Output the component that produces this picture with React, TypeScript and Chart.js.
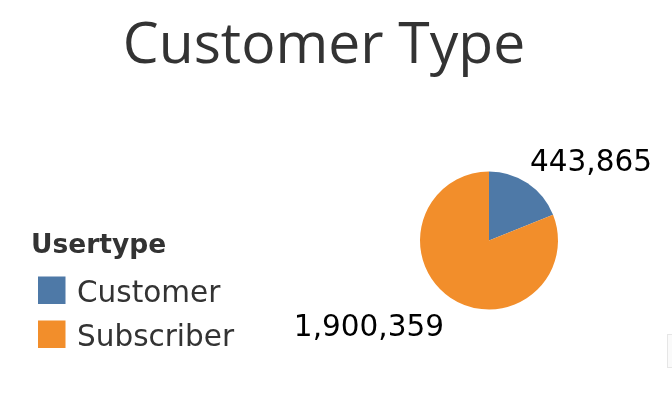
import React, { useEffect, useRef } from "react";
import { Chart, registerables } from "chart.js";

Chart.register(...registerables);

const titleText = "Customer Type";
const legendTitle = "Usertype";
const categories = ["Customer", "Subscriber"];
const values = [443865, 1900359];
const colors = ["#4e79a7", "#f28e2b"];

const TITLE_FONT = "'Open Sans', sans-serif";
const FONT = "'DejaVu Sans', sans-serif";

const textPlugin = {
  id: "textPlugin",
  afterDraw(chart: any) {
    const ctx = chart.ctx;
    ctx.save();
    // Title
    ctx.fillStyle = "#333333";
    ctx.font = `57px ${TITLE_FONT}`;
    ctx.textAlign = "center";
    ctx.textBaseline = "alphabetic";
    ctx.fillText(titleText, 324, 63);

    // Legend
    ctx.textAlign = "left";
    ctx.font = `bold 26.5px ${FONT}`;
    ctx.fillStyle = "#333333";
    ctx.fillText(legendTitle, 31, 253);
    ctx.font = `29.5px ${FONT}`;
    categories.forEach((c, i) => {
      const y = 276.5 + i * 44;
      ctx.fillStyle = colors[i];
      ctx.fillRect(38, y, 27.5, 27.5);
      ctx.fillStyle = "#333333";
      ctx.fillText(c, 77, y + 25);
    });

    // Value labels
    const meta = chart.getDatasetMeta(0);
    ctx.fillStyle = "#000000";
    ctx.font = `29.5px ${FONT}`;
    meta.data.forEach((arc: any, i: number) => {
      const v = values[i].toLocaleString("en-US");
      const cx = arc.x;
      const cy = arc.y;
      if (i === 0) {
        ctx.textAlign = "left";
        ctx.fillText(v, cx + 41, cy - 70);
      } else {
        ctx.textAlign = "right";
        ctx.fillText(v, cx - 45, cy + 95.5);
      }
    });
    ctx.restore();
  },
};

export default function App() {
  const ref = useRef<HTMLCanvasElement | null>(null);
  useEffect(() => {
    if (!ref.current) return;
    const chart = new Chart(ref.current, {
      type: "pie",
      data: {
        labels: categories,
        datasets: [
          {
            data: values,
            backgroundColor: colors,
            borderWidth: 0,
          },
        ],
      },
      options: {
        animation: false,
        responsive: false,
        layout: { padding: { left: 420, right: 114, top: 171.5, bottom: 94.5 } },
        plugins: {
          legend: { display: false },
          title: { display: false },
          tooltip: { enabled: false },
        },
      },
      plugins: [textPlugin],
    });
    return () => chart.destroy();
  }, []);
  return (
    <div style={{ position: "fixed", left: 0, top: 0, width: 672, height: 404, background: "#fff" }}>
      <canvas ref={ref} width={672} height={404} style={{ display: "block" }} />
      <div
        style={{
          position: "absolute",
          left: 667,
          top: 334,
          width: 5,
          height: 34,
          background: "#fafafa",
          borderTop: "1px solid #e6e6e6",
          borderBottom: "1px solid #e6e6e6",
          borderLeft: "1px solid #e6e6e6",
          boxSizing: "border-box",
        }}
      />
    </div>
  );
}
